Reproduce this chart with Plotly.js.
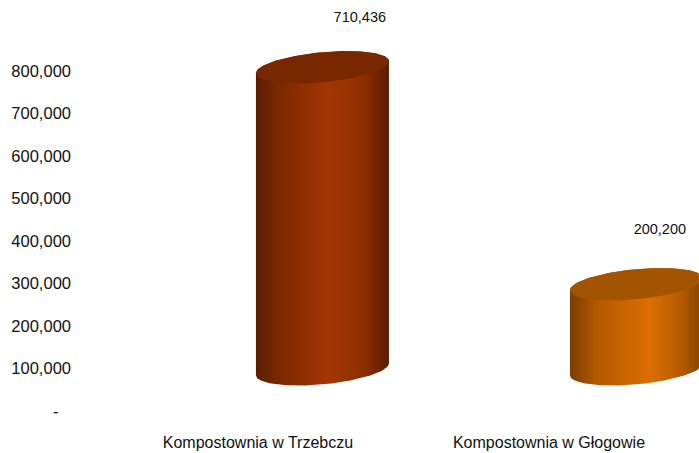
<!DOCTYPE html>
<html>
<head>
<meta charset="utf-8">
<script src="https://cdn.plot.ly/plotly-3.0.1.min.js"></script>
<style>html,body{margin:0;padding:0;background:#fff;}#chart{width:699px;height:453px;}</style>
</head>
<body>
<div id="chart"></div>
<script>
// ---- data ----
const categories = ['Kompostownia w Trzebczu', 'Kompostownia w Głogowie'];
const values = [710436, 200200];
const valueLabels = ['710,436', '200,200'];
const yTickVals = [0, 100000, 200000, 300000, 400000, 500000, 600000, 700000, 800000];
const yTickText = ['-\u00a0\u00a0\u2009', '100,000', '200,000', '300,000', '400,000', '500,000', '600,000', '700,000', '800,000'];

// ---- style ----
const bodyScales = [
  [[0, '#5a1d00'], [0.18, '#7c2900'], [0.55, '#a33600'], [0.82, '#8c2e00'], [1, '#581d00']],
  [[0, '#7a3d00'], [0.2, '#b45800'], [0.6, '#dc6f00'], [0.85, '#b25900'], [1, '#7e4300']]
];
const topColors = ['#782800', '#a25400'];
const FONT = '"Liberation Sans", Arial, sans-serif';

// 3D projection constants (axis units)
const halfW = 0.2285;      // cylinder half width (x units)
const ellB = 35300;        // ellipse vertical half axis (y units)
const tilt = 14100;        // ellipse tilt
const depthX = i => 0.2216 + 0.079 * i;
const depthY = 98000;
const N = 72;

function ellPt(cx, cy, th) {
  return [cx + halfW * Math.cos(th), cy + ellB * Math.sin(th) + tilt * Math.cos(th)];
}

const traces = [];
categories.forEach((c, i) => {
  const cx = i + depthX(i);
  const base = depthY;
  const top = depthY + values[i];
  const bx = [], by = [];
  for (let k = 0; k <= N; k++) {
    const p = ellPt(cx, base, Math.PI + Math.PI * k / N);
    bx.push(p[0]); by.push(p[1]);
  }
  for (let k = 0; k <= N; k++) {
    const p = ellPt(cx, top, Math.PI * k / N);
    bx.push(p[0]); by.push(p[1]);
  }
  traces.push({
    type: 'scatter', mode: 'lines', x: bx, y: by, fill: 'toself',
    line: {width: 0, color: 'rgba(0,0,0,0)'},
    fillgradient: {type: 'horizontal', colorscale: bodyScales[i]},
    hoverinfo: 'skip', showlegend: false
  });
  const tx = [], ty = [];
  for (let k = 0; k <= 2 * N; k++) {
    const p = ellPt(cx, top, 2 * Math.PI * k / (2 * N));
    tx.push(p[0]); ty.push(p[1]);
  }
  traces.push({
    type: 'scatter', mode: 'lines', x: tx, y: ty, fill: 'toself',
    line: {width: 0, color: 'rgba(0,0,0,0)'},
    fillcolor: topColors[i], hoverinfo: 'skip', showlegend: false
  });
});

traces.push({
  type: 'scatter', mode: 'text',
  x: categories.map((c, i) => i + 0.35 + 0.031 * i),
  y: values.map(v => v * 0.976 + 229000),
  text: valueLabels,
  textfont: {family: FONT, size: 14.5, color: '#111'},
  hoverinfo: 'skip', showlegend: false, cliponaxis: false
});

const layout = {
  width: 699, height: 453,
  margin: {l: 72, r: 0, t: 7, b: 42},
  paper_bgcolor: '#fff', plot_bgcolor: '#fff',
  showlegend: false,
  font: {family: FONT, size: 16, color: '#111'},
  xaxis: {
    range: [-0.639, 1.5155], showgrid: false, zeroline: false, showline: false,
    tickvals: categories.map((c, i) => i), ticktext: categories, ticks: '',
    ticklabelstandoff: 20, tickfont: {family: FONT, size: 16, color: '#111'}, fixedrange: true
  },
  yaxis: {
    range: [0, 950000], showgrid: false, zeroline: false, showline: false,
    tickvals: yTickVals, ticktext: yTickText, ticks: '',
    tickfont: {family: FONT, size: 16.5, color: '#111'}, fixedrange: true
  }
};

Plotly.newPlot('chart', traces, layout, {displayModeBar: false, staticPlot: true});
</script>
</body>
</html>
